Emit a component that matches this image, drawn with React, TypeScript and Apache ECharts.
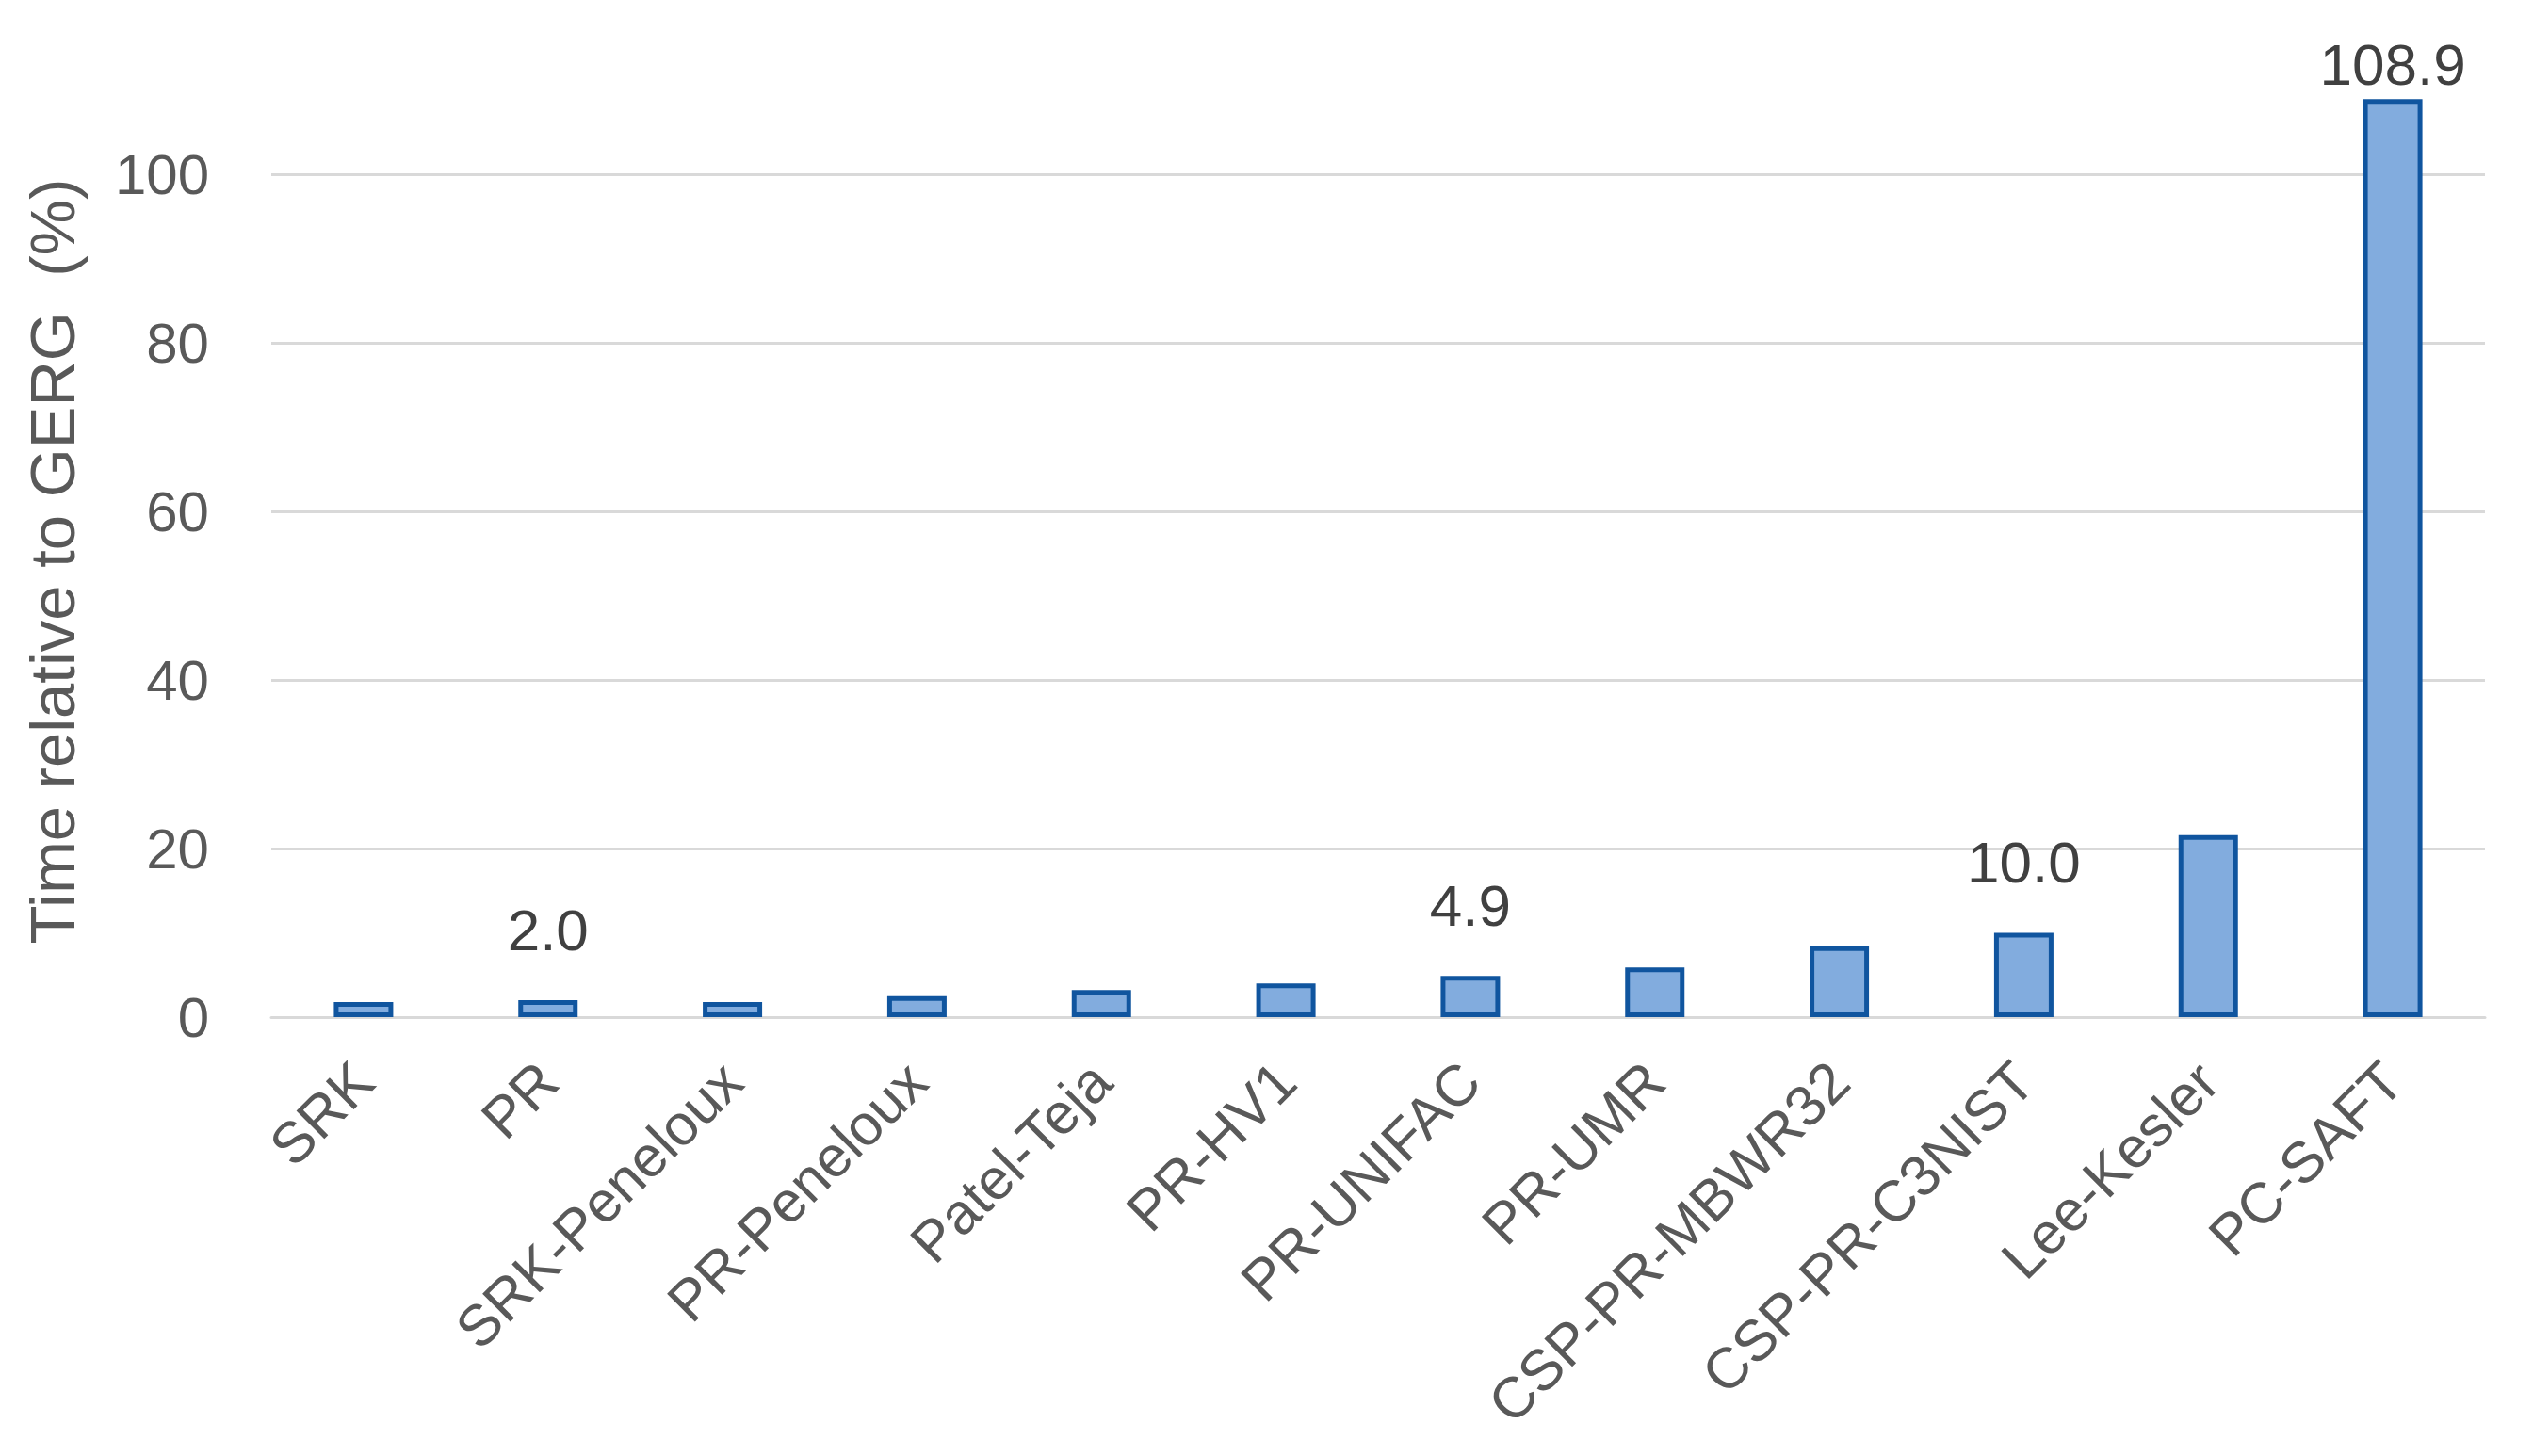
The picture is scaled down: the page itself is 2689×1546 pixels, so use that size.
import React, { useEffect, useRef } from "react";
import * as echarts from "echarts";

const categories = [
  "SRK",
  "PR",
  "SRK-Peneloux",
  "PR-Peneloux",
  "Patel-Teja",
  "PR-HV1",
  "PR-UNIFAC",
  "PR-UMR",
  "CSP-PR-MBWR32",
  "CSP-PR-C3NIST",
  "Lee-Kesler",
  "PC-SAFT",
];
const values = [1.8, 2.0, 1.8, 2.5, 3.2, 4.0, 4.9, 5.9, 8.4, 10.0, 21.6, 108.9];
const labeledCategories = ["PR", "PR-UNIFAC", "CSP-PR-C3NIST", "PC-SAFT"];
const yTicks = [0, 20, 40, 60, 80, 100];
const yTitle = "Time relative to GERG  (%)";

export default function App() {
  const ref = useRef<HTMLDivElement>(null);
  useEffect(() => {
    if (!ref.current) return;
    const chart = echarts.init(ref.current, null, { renderer: "svg" });
    const data = values.map((v, i) => {
      const show = labeledCategories.includes(categories[i]);
      return {
        value: v,
        label: {
          show,
          position: "top",
          distance: v > 100 ? 6 : 44,
          formatter: (p: any) => Number(p.value).toFixed(1),
          fontFamily: "'Liberation Sans', Arial, sans-serif",
          fontSize: 62,
          color: "#404040",
        },
      };
    });
    chart.setOption({
      animation: false,
      backgroundColor: "#ffffff",
      grid: {
        left: 288,
        right: 51,
        top: 185,
        bottom: 466,
        containLabel: false,
        outerBoundsMode: "none",
      },
      graphic: [
        {
          type: "text",
          x: 55,
          y: 596,
          rotation: Math.PI / 2,
          style: {
            text: yTitle,
            font: "67px 'Liberation Sans', Arial, sans-serif",
            fill: "#595959",
            textAlign: "center",
            textVerticalAlign: "middle",
          },
        },
      ],
      xAxis: {
        type: "category",
        data: categories,
        axisLine: { show: true, lineStyle: { color: "#d9d9d9", width: 3 } },
        axisTick: { show: false },
        axisLabel: {
          interval: 0,
          rotate: 45,
          margin: 58,
          fontFamily: "'Liberation Sans', Arial, sans-serif",
          fontSize: 61,
          color: "#595959",
        },
      },
      yAxis: {
        type: "value",
        min: yTicks[0],
        max: yTicks[yTicks.length - 1],
        interval: yTicks[1] - yTicks[0],
        axisLine: { show: false },
        axisTick: { show: false },
        splitLine: { show: true, lineStyle: { color: "#d9d9d9", width: 3 } },
        axisLabel: {
          margin: 66,
          fontFamily: "'Liberation Sans', Arial, sans-serif",
          fontSize: 60,
          color: "#595959",
        },
      },
      series: [
        {
          type: "bar",
          data,
          barWidth: 63,
          clip: false,
          itemStyle: {
            color: "#82ACDE",
            borderColor: "#10559F",
            borderWidth: 5,
          },
        },
      ],
    });
    return () => chart.dispose();
  }, []);
  return (
    <div
      ref={ref}
      style={{ position: "fixed", left: 0, top: 0, width: 2689, height: 1546 }}
    />
  );
}
